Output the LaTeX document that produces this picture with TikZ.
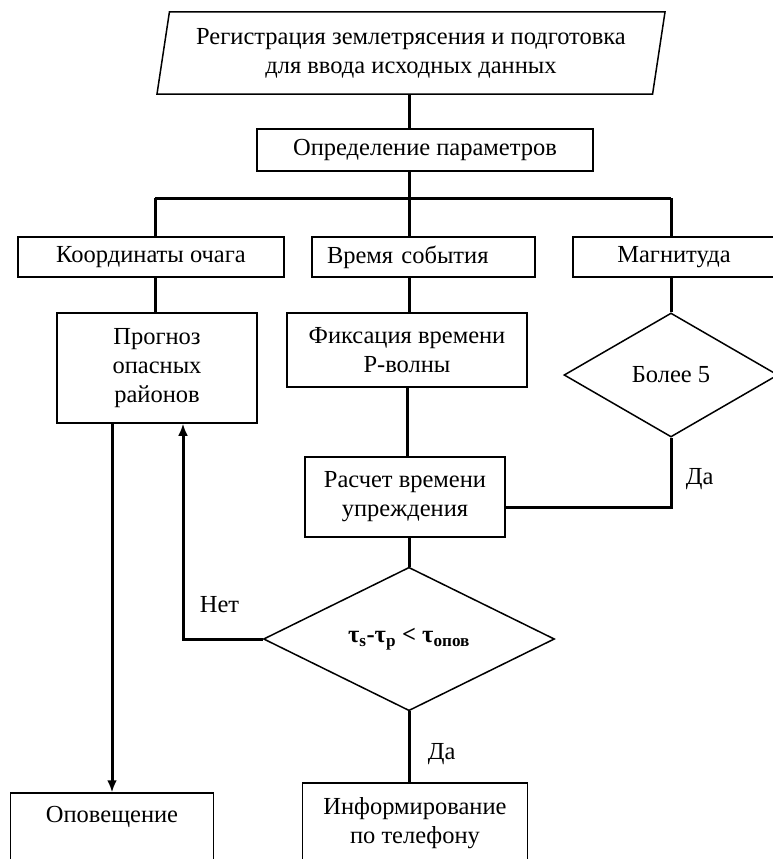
\documentclass[tikz,border=0pt]{standalone}
\usepackage{fontspec}
\setmainfont{Liberation Serif}
\usetikzlibrary{shapes.geometric,arrows.meta}

\begin{document}
\begin{tikzpicture}[x=1pt,y=-1pt,font=\fontsize{24.5}{29}\selectfont]
    \tikzstyle{block}=[draw,line width=1.5pt,rectangle,align=center,inner sep=0pt];
    \tikzstyle{cond}=[draw,line width=1.5pt,diamond,inner sep=0pt];
    \tikzstyle{data}=[draw,line width=1.5pt,trapezium,trapezium left angle=76,trapezium right angle=104,trapezium stretches body,align=center,inner sep=0pt];
    \tikzstyle{line}=[line width=3pt];
    \tikzstyle{arrow}=[line width=3pt,-{Latex[length=12pt,width=10pt]}];

    \useasboundingbox (0,0) rectangle (773,859);

    \node (reg) [data,minimum width=508,minimum height=82] at (411,53) {Регистрация землетрясения и подготовка\\для ввода исходных данных};
    \node (opr) [block,minimum width=336,minimum height=42] at (425,150) {Определение параметров};
    \node (koord) [block,minimum width=266,minimum height=40] at (151,257) {Координаты очага};
    \node (vrem) [block,minimum width=223,minimum height=40,text width=193,align=left] at (423.5,257) {Время события};
    \node (magn) [block,minimum width=202,minimum height=40] at (674,257) {Магнитуда};
    \node (prog) [block,minimum width=200,minimum height=110] at (157,368) {Прогноз\\опасных\\районов};
    \node (fix) [block,minimum width=240,minimum height=74] at (407,350) {Фиксация времени\\Р-волны};
    \node (more5) [cond,minimum width=214,minimum height=124] at (671,375) {Более 5};
    \node (rasch) [block,minimum width=200,minimum height=80] at (405,497) {Расчет времени\\упреждения};
    \node (tau) [cond,minimum width=291,minimum height=118] at (409,639) {\bfseries τ\textsubscript{s}-τ\textsubscript{p} < τ\textsubscript{опов}};
    \node (opov) [block,minimum width=203,minimum height=80] at (112,833) {Оповещение\\\strut};
    \node (inf) [block,minimum width=225,minimum height=80] at (415,823) {Информирование\\по телефону};

    % branching bar under the parameters box
    \coordinate (split) at (409,198);
    \coordinate (b1) at (155,198);
    \coordinate (b3) at (671,198);

    \draw [line] (reg.south -| split) -- (opr.north -| split);
    \draw [line] (opr.south -| split) -- (split);
    \draw [line] (b1) -- (b3);
    \draw [line] (b1) -- (b1 |- koord.north);
    \draw [line] (split) -- (split |- vrem.north);
    \draw [line] (b3) -- (b3 |- magn.north);

    \draw [line] (b1 |- koord.south) -- (b1 |- prog.north);
    \draw [line] (split |- vrem.south) -- (split |- fix.north);
    \draw [line] (more5.north |- magn.south) -- (more5.north);
    \draw [line] (fix.south) -- (fix.south |- rasch.north);
    \draw [line] (more5.south) |- ([yshift=-10pt]rasch.east) node [pos=0.3,right=10pt] {Да};
    \draw [line] (tau.north |- rasch.south) -- (tau.north);

    \draw [arrow] (tau.west) -| ([xshift=26pt]prog.south) node [pos=0.58,right=12pt] {Нет};
    \draw [arrow] (opov.north |- prog.south) -- (opov.north);
    \draw [line] (tau.south) -- (tau.south |- inf.north) node [pos=0.6,right=14pt] {Да};
\end{tikzpicture}
\end{document}
